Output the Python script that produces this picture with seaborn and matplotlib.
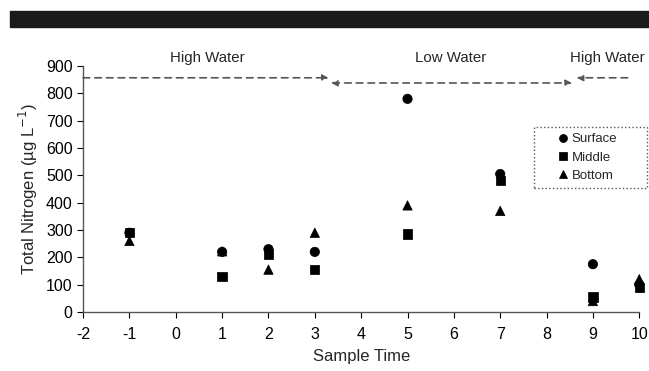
import numpy as np
import matplotlib
matplotlib.use("Agg")
import matplotlib.pyplot as plt
import pandas as pd
import seaborn as sb

# values
times = [-1, 1, 2, 3, 5, 7, 9, 10]
surface = [290, 220, 230, 220, 780, 505, 175, 100]
middle = [290, 130, 212, 155, 285, 480, 55, 90]
bottom = [260, 222, 155, 290, 390, 370, 40, 120]
depths = ["Surface", "Middle", "Bottom"]
xticks = list(range(-2, 11))

data = pd.DataFrame({
    "time": times * 3,
    "tn": surface + middle + bottom,
    "depth": np.repeat(depths, len(times)),
})

sb.set_style("white")
plt.rcParams["font.family"] = ["Liberation Sans", "DejaVu Sans"]

fig = plt.figure(figsize=(6.49, 3.71), dpi=100)
ax = fig.add_axes([0.128, 0.159, 0.857, 0.663])

# black header strip
fig.patches.append(plt.Rectangle((0.015, 0.927), 0.985, 0.043,
                                 transform=fig.transFigure, color="#1a1a1a"))

sb.scatterplot(data=data, x="time", y="tn", style="depth", style_order=depths,
               markers={"Surface": "o", "Middle": "s", "Bottom": "^"},
               color="black", s=45, edgecolor="black", ax=ax, legend=True,
               clip_on=False, zorder=3)

ax.set_xlim(-2, 10)
ax.set_ylim(0, 900)
ax.set_xticks(xticks)
ax.set_xticklabels([str(t) for t in xticks])
ax.set_yticks(range(0, 901, 100))
ax.tick_params(axis="both", labelsize=11.5, length=4, width=0.8,
               direction="out", bottom=True, left=True, colors="black")
ax.tick_params(axis="x", pad=7)
for s in ["top", "right"]:
    ax.spines[s].set_visible(False)
for s in ["left", "bottom"]:
    ax.spines[s].set_color("#555555")
    ax.spines[s].set_linewidth(1)

ax.set_xlabel("Sample Time", fontsize=12, labelpad=5)
ax.set_ylabel("Total Nitrogen (µg L$^{-1}$)", fontsize=12, labelpad=4)

# water level periods
arr = dict(arrowstyle="-|>", linestyle=(0, (4, 3)), color="#555555", lw=1.2,
           mutation_scale=9, shrinkA=0, shrinkB=0)
ax.annotate("", xy=(3.3, 857), xytext=(-2, 857), arrowprops=arr,
            annotation_clip=False)
ax.annotate("", xy=(8.55, 838), xytext=(3.35, 838),
            arrowprops=dict(arr, arrowstyle="<|-|>"), annotation_clip=False)
ax.annotate("", xy=(8.65, 857), xytext=(9.75, 857), arrowprops=arr,
            annotation_clip=False)
ax.text(0.68, 905, "High Water", ha="center", va="bottom", fontsize=10.8)
ax.text(5.93, 905, "Low Water", ha="center", va="bottom", fontsize=10.8)
ax.text(9.32, 905, "High Water", ha="center", va="bottom", fontsize=10.8)

# legend: dotted box drawn separately so it can be wider than its entries
box = plt.Rectangle((0.811, 0.504), 0.203, 0.248, transform=ax.transAxes,
                    fill=False, linestyle=":", edgecolor="#555555", lw=1,
                    clip_on=False)
ax.add_patch(box)
leg = ax.legend(loc="center", bbox_to_anchor=(0.905, 0.628), frameon=False,
                fontsize=9.5, handletextpad=0.05, borderpad=0,
                labelspacing=0.45, markerscale=0.85, handlelength=1.2,
                borderaxespad=0)

fig.savefig("out.png", dpi=100)
